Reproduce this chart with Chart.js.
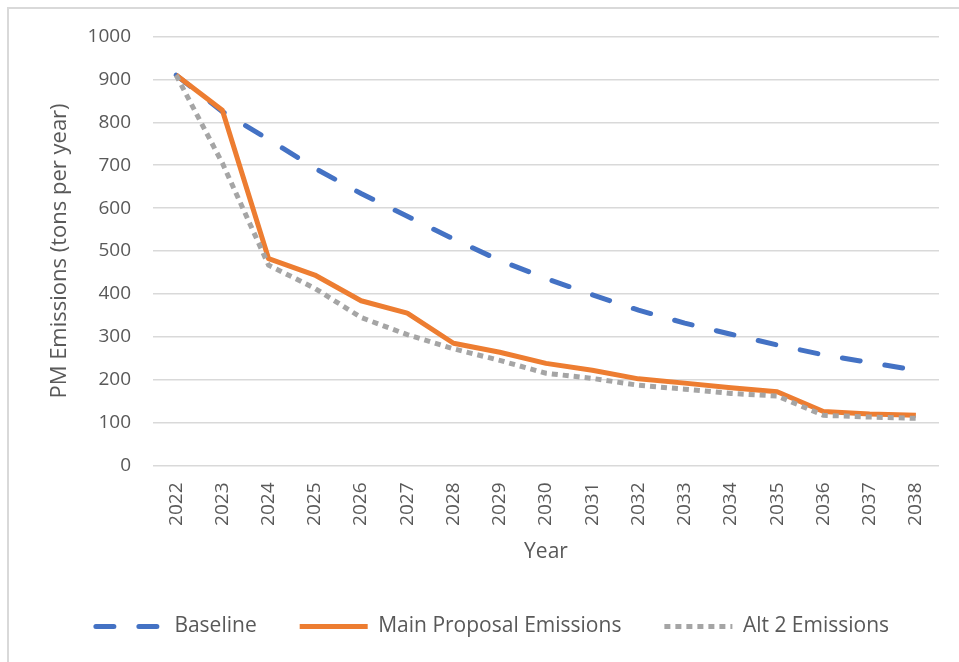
<!DOCTYPE html>
<html>
<head>
<meta charset="utf-8">
<script src="https://cdn.jsdelivr.net/npm/chart.js@4.4.0/dist/chart.umd.min.js"></script>
<style>
    html, body { margin: 0; padding: 0; background: #fff; overflow: hidden; }
    #frame { position: absolute; left: 7px; top: 7px; width: 1000px; height: 1000px; border: 2px solid #d9d9d9; }
    #wrap { position: absolute; left: 0; top: 0; width: 959px; height: 662px; }
</style>
</head>
<body>
<div id="frame"></div>
<div id="wrap"><canvas id="myChart"></canvas></div>
<script>
// data
const years = ['2022', '2023', '2024', '2025', '2026', '2027', '2028', '2029', '2030',
    '2031', '2032', '2033', '2034', '2035', '2036', '2037', '2038'];
const baseline = [910, 825, 760, 693, 634, 581, 528, 478, 436, 398, 362, 332, 306, 281, 258, 240, 222];
const mainProposal = [910, 828, 482, 444, 384, 355, 285, 264, 238, 222, 202, 192, 181, 172, 126, 120, 117];
const alt2 = [910, 705, 467, 413, 345, 305, 272, 245, 215, 203, 187, 178, 168, 162, 117, 113, 110];
const yTicks = [0, 100, 200, 300, 400, 500, 600, 700, 800, 900, 1000];

const textColor = '#595959';
const gridColor = '#d9d9d9';
const fontFamily = '"Open Sans", sans-serif';

let data = {
    labels: years,
    datasets: [{
        label: 'Baseline',
        data: baseline,
        borderColor: '#4472c4',
        backgroundColor: '#4472c4',
        borderWidth: 5,
        borderDash: [18, 25],
        borderCapStyle: 'round',
        order: 2
    }, {
        label: 'Main Proposal Emissions',
        data: mainProposal,
        borderColor: '#ed7d31',
        backgroundColor: '#ed7d31',
        borderWidth: 5,
        borderJoinStyle: 'round',
        order: 1
    }, {
        label: 'Alt 2 Emissions',
        data: alt2,
        borderColor: '#a5a5a5',
        backgroundColor: '#a5a5a5',
        borderWidth: 5,
        borderDash: [6, 5],
        order: 0
    }]
};

// legend items keep the dash style of their line
function legendLabels(chart) {
    let items = Chart.defaults.plugins.legend.labels.generateLabels(chart);
    items.forEach((item) => {
        let ds = chart.data.datasets[item.datasetIndex];
        item.lineDash = ds.borderDash || [];
        item.lineCap = ds.borderCapStyle || 'butt';
        item.lineWidth = ds.borderWidth;
        item.strokeStyle = ds.borderColor;
    });
    return items;
}

const config = {
    type: 'line',
    data: data,
    options: {
        responsive: true,
        maintainAspectRatio: false,
        animation: false,
        layout: { padding: { left: 46, right: 20, top: 36.5, bottom: 15 } },
        elements: {
            point: { radius: 0, hoverRadius: 0 },
            line: { tension: 0 }
        },
        scales: {
            x: {
                offset: true,
                grid: { display: false },
                border: { display: false },
                ticks: {
                    autoSkip: false,
                    minRotation: 90,
                    maxRotation: 90,
                    padding: 9,
                    color: textColor,
                    font: { family: fontFamily, size: 19 }
                },
                title: {
                    display: true,
                    text: 'Year',
                    color: textColor,
                    font: { family: fontFamily, size: 21 },
                    padding: { top: 0, bottom: 8.4 }
                },
                afterFit: (scale) => { scale.height = 107.5; }
            },
            y: {
                min: 0,
                max: 1000,
                border: { display: false },
                grid: { color: gridColor, lineWidth: 1.5, drawTicks: false },
                afterBuildTicks: (scale) => { scale.ticks = yTicks.map(v => ({ value: v })); },
                ticks: {
                    padding: 22,
                    color: textColor,
                    font: { family: fontFamily, size: 19 },
                    callback: (value) => String(value)
                },
                title: {
                    display: true,
                    text: 'PM Emissions (tons per year)',
                    color: textColor,
                    font: { family: fontFamily, size: 22 },
                    padding: { top: 0.8, bottom: 0 }
                },
                afterFit: (scale) => { scale.width = 107; }
            }
        },
        plugins: {
            legend: {
                position: 'bottom',
                labels: {
                    usePointStyle: true,
                    pointStyle: 'line',
                    pointStyleWidth: 68,
                    padding: 43,
                    color: textColor,
                    font: { family: fontFamily, size: 21 },
                    sort: (a, b) => a.datasetIndex - b.datasetIndex,
                    generateLabels: legendLabels
                }
            },
            tooltip: { enabled: false }
        }
    }
};

let myChart = new Chart(document.getElementById('myChart'), config);
</script>
</body>
</html>
